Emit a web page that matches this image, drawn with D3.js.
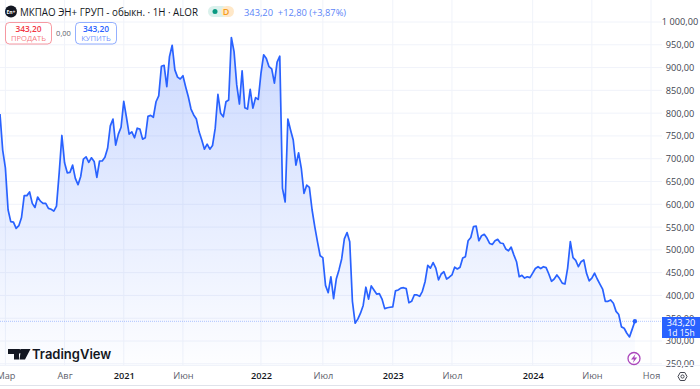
<!DOCTYPE html>
<html>
<head>
<meta charset="utf-8">
<script src="https://cdn.jsdelivr.net/npm/d3@7"></script>
<style>
html, body { margin: 0; padding: 0; background: #fff; overflow: hidden; }
text { font-family: "Open Sans", Roboto, sans-serif; }
.axis path { display: none; }
.axis line { display: none; }
.axis text { font-size: 9.2px; fill: #434651; font-family: "Open Sans", sans-serif; }
.grid line { stroke: #f0f3fa; stroke-width: 1; }
</style>
</head>
<body>
<svg id="chart" width="700" height="389"></svg>
<script>
// weekly closes
var closes = [
	798,719,680,588,562,561,547,553,571,619,619,627,602,593,616,607,602,602,591,589,585,596,669,751,691,669,670,686,657,643,
	661,699,704,692,702,694,659,695,695,703,723,772,787,730,754,769,826,791,754,759,746,767,765,743,746,793,795,791,825,838,
	903,905,858,924,949,895,879,875,882,858,836,809,796,787,759,741,721,732,721,729,767,841,800,792,825,829,966,935,862,820,
	893,812,809,852,811,834,830,887,928,920,902,897,866,912,925,635,605,787,763,741,686,713,679,624,642,637,588,551,518,487,
	483,422,406,441,393,436,456,480,524,538,518,387,339,348,361,378,418,392,421,412,403,404,392,371,373,374,375,410,412,416,
	417,415,384,387,401,401,398,409,430,466,460,472,460,434,447,452,436,440,445,462,458,462,482,485,520,527,551,552,520,531,
	534,526,514,512,520,523,515,514,502,498,506,489,474,441,444,438,441,439,449,459,463,459,463,461,447,431,436,445,437,427,
	425,460,518,483,477,463,474,478,449,432,438,449,436,425,414,387,387,390,383,365,358,331,328,317,309,326,343.2
];

var priceTicks = [250,300,350,400,450,500,550,600,650,700,750,800,850,900,950,1000];

var timeBars = [2,24,46,68,97,120,146,168,198,220,242];
var timeLabels = ["Мар","Авг","2021","Июн","2022","Июл","2023","Июл","2024","Июн","Ноя"];
var yearLabels = ["2021","2022","2023","2024"];

var lastPrice = 343.2;
var lastLabel = "343,20";
var changeLabel = "343,20  +12,80 (+3,87%)";
var titleLabel = "МКПАО ЭН+ ГРУП - обыкн. · 1Н · ALOR";

var width = 700, height = 389;
var plotRight = 662, plotBottom = 365;

var ru = d3.formatLocale({decimal: ",", thousands: " ", grouping: [3], currency: ["", " ₽"]});
var priceFormat = ru.format(",.2f");

var svg = d3.select("#chart");

// 2.69px per bar
var x = d3.scaleLinear().domain([0, 260.2]).range([0, width]);
var y = d3.scaleLinear().domain([300, 1000]).range([341, 22]);

var defs = svg.append("defs");
var grad = defs.append("linearGradient")
	.attr("id", "fill-grad")
	.attr("gradientUnits", "userSpaceOnUse")
	.attr("x1", 0).attr("x2", 0)
	.attr("y1", y(966)).attr("y2", plotBottom);
grad.append("stop").attr("offset", "0%").attr("stop-color", "#2962ff").attr("stop-opacity", 0.24);
grad.append("stop").attr("offset", "100%").attr("stop-color", "#2962ff").attr("stop-opacity", 0.01);

// grid
svg.append("g").attr("class", "grid")
	.selectAll("line.h").data(priceTicks).enter().append("line")
	.attr("x1", 0).attr("x2", plotRight)
	.attr("y1", function(d){ return y(d); })
	.attr("y2", function(d){ return y(d); });

svg.append("g").attr("class", "grid")
	.selectAll("line.v").data(timeBars).enter().append("line")
	.attr("y1", 0).attr("y2", plotBottom)
	.attr("x1", function(d){ return x(d); })
	.attr("x2", function(d){ return x(d); });

// area + line
var area = d3.area()
	.x(function(d, i){ return x(i); })
	.y0(plotBottom)
	.y1(function(d){ return y(d); });

var line = d3.line()
	.x(function(d, i){ return x(i); })
	.y(function(d){ return y(d); });

svg.append("path").datum(closes)
	.attr("d", area)
	.attr("fill", "url(#fill-grad)");

// last price line
svg.append("line")
	.attr("x1", 0).attr("x2", plotRight)
	.attr("y1", y(lastPrice)).attr("y2", y(lastPrice))
	.attr("stroke", "#2962ff").attr("stroke-opacity", 0.35)
	.attr("stroke-dasharray", "1 1")
	.attr("stroke-width", 1);

svg.append("path").datum(closes)
	.attr("d", line)
	.attr("fill", "none")
	.attr("stroke", "#2962ff")
	.attr("stroke-width", 1.7)
	.attr("stroke-linejoin", "round");

svg.append("circle")
	.attr("cx", x(closes.length - 1))
	.attr("cy", y(lastPrice))
	.attr("r", 2.2)
	.attr("fill", "#2962ff");

// axes
svg.append("g").attr("class", "axis")
	.attr("transform", "translate(" + plotRight + ",0)")
	.call(d3.axisRight(y).tickValues(priceTicks).tickFormat(priceFormat).tickSize(0).tickPadding(18))
	.selectAll("text").attr("text-anchor", "middle");

svg.append("line")
	.attr("x1", 0).attr("x2", width)
	.attr("y1", plotBottom + 0.5).attr("y2", plotBottom + 0.5)
	.attr("stroke", "#f0f3fa");
svg.append("line")
	.attr("x1", 0).attr("x2", width)
	.attr("y1", 385.5).attr("y2", 385.5)
	.attr("stroke", "#e0e3eb");

var xAxis = svg.append("g").attr("class", "axis")
	.attr("transform", "translate(0," + plotBottom + ")")
	.call(d3.axisBottom(x).tickValues(timeBars)
		.tickFormat(function(d, i){ return timeLabels[i]; })
		.tickSize(0).tickPadding(7));
xAxis.selectAll("text")
	.style("font-weight", function(d, i){ return yearLabels.indexOf(timeLabels[i]) >= 0 ? 600 : 400; })
	.style("fill", function(d, i){ return yearLabels.indexOf(timeLabels[i]) >= 0 ? "#131722" : "#5d606b"; });

// price label
svg.append("rect")
	.attr("x", plotRight).attr("y", 317)
	.attr("width", width - plotRight).attr("height", 21)
	.attr("fill", "#2962ff");
svg.append("text").attr("x", 681).attr("y", 326)
	.attr("text-anchor", "middle").attr("fill", "#fff").attr("font-size", 9.2)
	.text(lastLabel);
svg.append("text").attr("x", 681).attr("y", 336)
	.attr("text-anchor", "middle").attr("fill", "#fff").attr("font-size", 8.5)
	.text("1d 15h");

// header
var head = svg.append("g");
head.append("circle").attr("cx", 11).attr("cy", 11.5).attr("r", 6).attr("fill", "#131722");
head.append("text").attr("x", 11).attr("y", 13.5).attr("text-anchor", "middle")
	.attr("fill", "#fff").attr("font-size", 5).attr("font-weight", 700).text("En+");
head.append("text").attr("x", 20).attr("y", 15.5)
	.attr("fill", "#131722").attr("font-size", 10.4)
	.attr("textLength", 178).attr("lengthAdjust", "spacingAndGlyphs")
	.text(titleLabel);

head.append("rect").attr("x", 208).attr("y", 6).attr("width", 20).attr("height", 11).attr("rx", 5.5).attr("fill", "#daf1ec");
head.append("rect").attr("x", 221).attr("y", 6).attr("width", 13).attr("height", 11).attr("rx", 5.5).attr("fill", "#ffe8c8");
head.append("circle").attr("cx", 215).attr("cy", 11.5).attr("r", 2.5).attr("fill", "#089981");
head.append("text").attr("x", 226).attr("y", 15).attr("text-anchor", "middle")
	.attr("fill", "#f59d1a").attr("font-size", 9).attr("font-weight", 600).text("D");
head.append("text").attr("x", 244).attr("y", 15.5)
	.attr("fill", "#5c85f7").attr("font-size", 9.3).attr("xml:space", "preserve").text(changeLabel);

var buttons = [
	{x: 5.5, w: 46, color: "#f23645", label: "ПРОДАТЬ"},
	{x: 75.5, w: 41, color: "#2962ff", label: "КУПИТЬ"}
];
buttons.forEach(function(b){
	head.append("rect").attr("x", b.x).attr("y", 22.5).attr("width", b.w).attr("height", 21.5).attr("rx", 4)
		.attr("fill", "#fff").attr("stroke", b.color).attr("stroke-opacity", 0.5);
	head.append("text").attr("x", b.x + b.w / 2).attr("y", 31.5).attr("text-anchor", "middle")
		.attr("fill", b.color).attr("font-size", 8.4).attr("font-weight", 600).text(lastLabel);
	head.append("text").attr("x", b.x + b.w / 2).attr("y", 41).attr("text-anchor", "middle")
		.attr("fill", b.color).attr("fill-opacity", 0.7).attr("font-size", 7.6).text(b.label);
});
head.append("text").attr("x", 63.5).attr("y", 35.5).attr("text-anchor", "middle")
	.attr("fill", "#5d606b").attr("font-size", 7.5).text("0,00");

// logo
var logo = svg.append("g").attr("transform", "translate(8,348)");
logo.append("path").attr("fill", "#131722")
	.attr("d", "M0 1H11V11.5H6V6H0Z M13 1H22.5L17 11.5H11.5Z");
logo.append("circle").attr("cx", 11.5).attr("cy", 3.2).attr("r", 2.2).attr("fill", "#131722");
svg.append("text").attr("x", 32).attr("y", 358.5)
	.attr("fill", "#131722").attr("font-size", 13).attr("font-weight", 600)
	.style("font-family", "Inter, sans-serif").text("TradingView");

// lightning badge
svg.append("circle").attr("cx", 634).attr("cy", 358.5).attr("r", 6)
	.attr("fill", "#fff").attr("stroke", "#ab47bc").attr("stroke-width", 1.3);
svg.append("path").attr("fill", "#ab47bc")
	.attr("d", "M635.5 354L631 359.5H634L632.8 363L637.2 357.5H634.3Z");

// settings icon
svg.append("circle").attr("cx", 682.5).attr("cy", 376.5).attr("r", 1.6)
	.attr("fill", "none").attr("stroke", "#434651");
svg.append("path").attr("fill", "none").attr("stroke", "#434651")
	.attr("d", "M678 376.5L680.2 372.5H684.8L687 376.5L684.8 380.5H680.2Z");
</script>
</body>
</html>
